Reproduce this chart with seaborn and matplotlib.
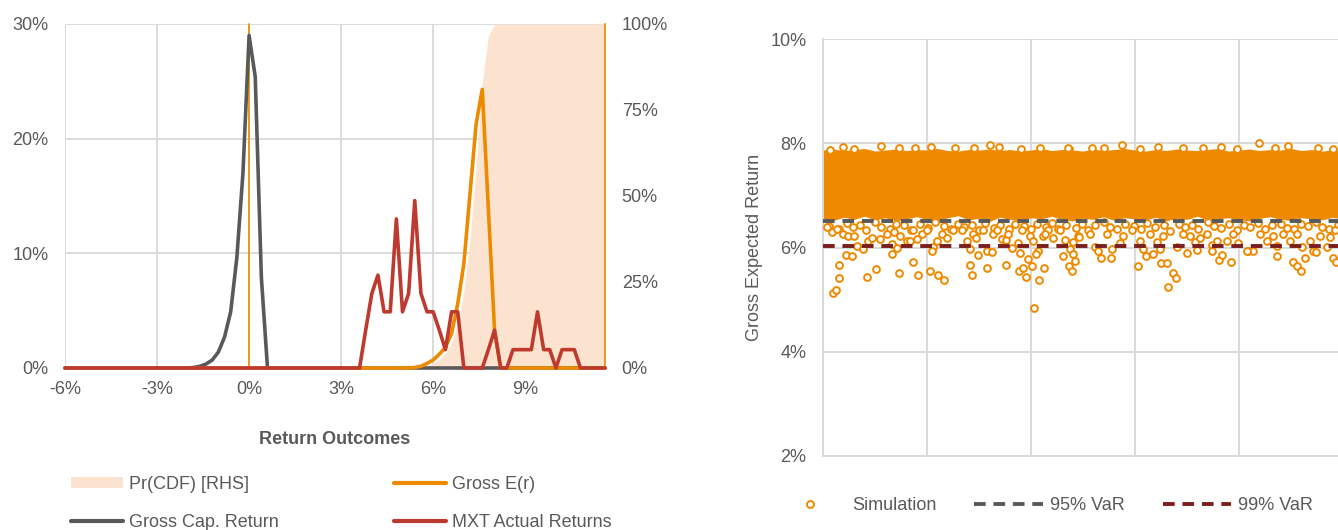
import matplotlib
matplotlib.use("Agg")
import matplotlib.pyplot as plt
import seaborn as sns
from matplotlib.lines import Line2D
from matplotlib.patches import Patch

# ---- left chart: distribution of return outcomes (in %) ----
bins = [-6.0, -5.8, -5.6, -5.4, -5.2, -5.0, -4.8, -4.6, -4.4, -4.2, -4.0, -3.8, -3.6, -3.4, -3.2,
        -3.0, -2.8, -2.6, -2.4, -2.2, -2.0, -1.8, -1.6, -1.4, -1.2, -1.0, -0.8, -0.6, -0.4, -0.2,
        0.0, 0.2, 0.4, 0.6, 0.8, 1.0, 1.2, 1.4, 1.6, 1.8, 2.0, 2.2, 2.4, 2.6, 2.8,
        3.0, 3.2, 3.4, 3.6, 3.8, 4.0, 4.2, 4.4, 4.6, 4.8, 5.0, 5.2, 5.4, 5.6, 5.8,
        6.0, 6.2, 6.4, 6.6, 6.8, 7.0, 7.2, 7.4, 7.6, 7.8, 8.0, 8.2, 8.4, 8.6, 8.8,
        9.0, 9.2, 9.4, 9.6, 9.8, 10.0, 10.2, 10.4, 10.6, 10.8, 11.0, 11.2, 11.4, 11.6]

# non-zero readings only, every other bin is 0
gross_cap = {-1.8: 0.05, -1.6: 0.15, -1.4: 0.35, -1.2: 0.7, -1.0: 1.4, -0.8: 2.7, -0.6: 4.9,
             -0.4: 9.6, -0.2: 17.0, 0.0: 29.0, 0.2: 25.4, 0.4: 7.9}
gross_er = {5.4: 0.05, 5.6: 0.15, 5.8: 0.4, 6.0: 0.7, 6.2: 1.2, 6.4: 1.8, 6.6: 3.0, 6.8: 5.6,
            7.0: 9.1, 7.2: 15.2, 7.4: 21.3, 7.6: 24.3, 7.8: 13.8, 8.0: 3.3}
mxt_actual = {3.8: 3.3, 4.0: 6.5, 4.2: 8.1, 4.4: 4.9, 4.6: 4.9, 4.8: 13.0, 5.0: 4.9, 5.2: 6.5,
              5.4: 14.6, 5.6: 6.5, 5.8: 4.9, 6.0: 4.9, 6.2: 3.3, 6.4: 1.6, 6.6: 4.9, 6.8: 4.9,
              7.8: 1.6, 8.0: 3.3, 8.6: 1.6, 8.8: 1.6, 9.0: 1.6, 9.2: 1.6, 9.4: 4.9, 9.6: 1.6,
              9.8: 1.6, 10.2: 1.6, 10.4: 1.6, 10.6: 1.6}
cdf_rhs = {5.4: 0.05, 5.6: 0.2, 5.8: 0.6, 6.0: 1.3, 6.2: 2.5, 6.4: 4.3, 6.6: 7.3, 6.8: 12.9,
           7.0: 22.0, 7.2: 37.2, 7.4: 58.5, 7.6: 82.8, 7.8: 96.6, 8.0: 99.9, 8.2: 100, 8.4: 100,
           8.6: 100, 8.8: 100, 9.0: 100, 9.2: 100, 9.4: 100, 9.6: 100, 9.8: 100, 10.0: 100,
           10.2: 100, 10.4: 100, 10.6: 100, 10.8: 100, 11.0: 100, 11.2: 100, 11.4: 100, 11.6: 100}

left_xticks = [-6, -3, 0, 3, 6, 9]
left_xlabels = ["-6%", "-3%", "0%", "3%", "6%", "9%"]
left_yticks = [0, 10, 20, 30]
left_ylabels = ["0%", "10%", "20%", "30%"]
rhs_yticks = [0, 25, 50, 75, 100]
rhs_ylabels = ["0%", "25%", "50%", "75%", "100%"]

# ---- right chart: simulated gross expected returns (in %) ----
var_95 = 6.50
var_99 = 6.03

# envelope of the dense cloud, sampled every 100 simulations
band_sim = list(range(0, 5001, 100))
band_top = [7.87, 7.89, 7.86, 7.88, 7.90, 7.85, 7.87, 7.89, 7.86, 7.88, 7.87, 7.90, 7.86, 7.85,
            7.88, 7.87, 7.89, 7.86, 7.88, 7.85, 7.87, 7.90, 7.86, 7.88, 7.87, 7.85, 7.89, 7.86,
            7.88, 7.90, 7.87, 7.85, 7.88, 7.86, 7.89, 7.87, 7.86, 7.88, 7.90, 7.85, 7.87, 7.89,
            7.86, 7.88, 7.87, 7.90, 7.86, 7.88, 7.85, 7.87, 7.88]
band_bottom = [6.56, 6.52, 6.58, 6.54, 6.60, 6.53, 6.57, 6.51, 6.55, 6.59, 6.54, 6.52, 6.57, 6.61,
               6.53, 6.56, 6.50, 6.58, 6.54, 6.52, 6.57, 6.55, 6.60, 6.53, 6.51, 6.56, 6.54, 6.59,
               6.52, 6.57, 6.55, 6.53, 6.58, 6.51, 6.56, 6.54, 6.60, 6.52, 6.55, 6.57, 6.53, 6.51,
               6.56, 6.59, 6.54, 6.52, 6.57, 6.55, 6.53, 6.58, 6.54]

# highest points above the cloud
top_sim = [67, 196, 558, 731, 1035, 1269, 1606, 1692, 2087, 2365, 2359, 2583, 2878, 3224,
           3465, 3827, 3978, 4196, 4474, 4763, 300, 880, 1450, 1900, 2700, 3050, 3650, 4350, 4900]
top_ret = [7.88, 7.92, 7.94, 7.90, 7.92, 7.90, 7.97, 7.93, 7.90, 7.89, 7.90, 7.91, 7.97, 7.92,
           7.90, 7.92, 7.89, 8.00, 7.94, 7.90, 7.89, 7.90, 7.91, 7.89, 7.90, 7.89, 7.91, 7.90, 7.89]

# fringe just under the cloud
fringe_sim = [60, 150, 230, 290, 360, 410, 500, 560, 640, 700, 780, 850, 930, 1010, 1080, 1160,
              1230, 1300, 1360, 1430, 1500, 1560, 1640, 1700, 1790, 1850, 1930, 2000, 2060, 2140,
              2200, 2260, 2340, 2430, 2490, 2550, 2620, 2700, 2760, 2830, 2900, 2990, 3060, 3120,
              3190, 3280, 3340, 3420, 3480, 3550, 3610, 3700, 3760, 3830, 3900, 3980, 4050, 4110,
              4180, 4250, 4320, 4400, 4460, 4530, 4600, 4660, 4740, 4800, 4870, 4950]
fringe_ret = [6.42, 6.35, 6.47, 6.40, 6.44, 6.33, 6.48, 6.39, 6.36, 6.46, 6.43, 6.34, 6.45, 6.38,
              6.48, 6.41, 6.35, 6.46, 6.39, 6.44, 6.33, 6.47, 6.37, 6.43, 6.36, 6.46, 6.42, 6.35,
              6.45, 6.40, 6.47, 6.36, 6.44, 6.38, 6.46, 6.33, 6.43, 6.48, 6.40, 6.35, 6.45, 6.42,
              6.36, 6.47, 6.39, 6.44, 6.32, 6.46, 6.40, 6.43, 6.35, 6.48, 6.42, 6.38, 6.45, 6.34,
              6.44, 6.40, 6.47, 6.36, 6.43, 6.46, 6.38, 6.35, 6.45, 6.42, 6.48, 6.40, 6.36, 6.44]

# points between the two VaR levels
mid_sim = [35, 83, 131, 196, 244, 298, 324, 388, 436, 468, 548, 612, 660, 683, 740, 804, 837, 869,
           901, 949, 997, 1061, 1093, 1141, 1189, 1253, 1333, 1381, 1413, 1446, 1471, 1542, 1580,
           1638, 1670, 1718, 1760, 1782, 1814, 1878, 1910, 1990, 2022, 2071, 2119, 2167, 2215,
           2279, 2327, 2375, 2407, 2455, 2135, 2465, 2567, 2615, 2647, 2728, 2776, 2856, 2888,
           2968, 3048, 3080, 3144, 3208, 3240, 3266, 3401, 3465, 3529, 3577, 3625, 3689, 3737,
           3785, 3881, 3946, 3994, 4090, 4138, 4202, 4266, 4330, 4369, 4426, 4490, 4554, 4602,
           4683, 4715, 4779, 4843, 4875, 4923]
mid_ret = [6.39, 6.29, 6.36, 6.26, 6.23, 6.23, 6.02, 5.97, 6.13, 6.19, 6.17, 6.26, 6.07, 6.29, 6.23,
           6.12, 6.12, 6.33, 6.17, 6.26, 6.34, 6.01, 6.13, 6.26, 6.19, 6.33, 6.33, 6.13, 5.97, 6.26,
           6.19, 6.33, 5.94, 6.26, 6.33, 6.17, 6.15, 6.26, 6.00, 6.08, 6.33, 6.23, 6.13, 5.94, 6.23,
           6.33, 6.19, 6.33, 6.15, 5.97, 6.10, 6.23, 6.26, 6.20, 6.26, 6.01, 5.94, 6.26, 5.97, 6.08,
           6.23, 6.33, 6.13, 5.97, 6.26, 6.10, 5.97, 6.23, 6.01, 6.26, 6.23, 6.10, 6.19, 6.26, 6.04,
           6.13, 6.13, 6.26, 6.08, 5.94, 5.94, 6.26, 6.13, 6.23, 6.02, 6.26, 6.13, 6.26, 6.01, 6.13,
           5.94, 6.23, 6.01, 6.20, 6.33]

# tail below the 99% VaR
tail_sim = [99, 122, 157, 157, 221, 276, 420, 507, 667, 708, 731, 862, 913, 1051, 1026, 1106, 1163,
            1410, 1429, 1494, 1574, 1622, 1763, 1888, 1894, 1926, 1949, 1974, 2010, 2029, 2048,
            2080, 2128, 2311, 2369, 2397, 2400, 2423, 2676, 2772, 3032, 3106, 3170, 3247, 3311,
            3321, 3369, 3394, 3503, 3593, 3737, 3811, 3833, 3923, 4080, 4369, 4522, 4561, 4593,
            4635, 4740, 4907, 4933]
tail_ret = [5.12, 5.18, 5.42, 5.67, 5.85, 5.83, 5.44, 5.58, 5.88, 5.99, 5.52, 5.72, 5.48, 5.94,
            5.55, 5.48, 5.37, 5.66, 5.48, 5.86, 5.60, 5.92, 5.66, 5.54, 5.90, 5.60, 5.44, 5.78,
            5.64, 4.83, 5.87, 5.38, 5.61, 5.83, 5.64, 5.55, 5.88, 5.74, 5.79, 5.79, 5.64, 5.83,
            5.87, 5.71, 5.71, 5.24, 5.52, 5.42, 5.89, 5.96, 5.94, 5.76, 5.85, 5.73, 5.93, 5.83,
            5.72, 5.64, 5.55, 5.80, 5.92, 5.80, 5.72]

right_yticks = [2, 4, 6, 8, 10]
right_ylabels = ["2%", "4%", "6%", "8%", "10%"]

# ---- style ----
ORANGE = "#EE8A00"
GREY = "#595959"
RED = "#BE3A2F"
PEACH = "#FBE3CF"
DARKRED = "#7B1E1E"
GRID = "#D9D9D9"
TEXT = "#595959"

sns.set_style("white")
plt.rcParams["font.family"] = ["Liberation Sans", "DejaVu Sans"]
plt.rcParams["font.size"] = 13

W, H = 1338, 530
fig = plt.figure(figsize=(W / 100, H / 100), dpi=100)


def px_box(x0, y0, x1, y1):
    return [x0 / W, 1 - y1 / H, (x1 - x0) / W, (y1 - y0) / H]


# left chart: grid axis at the bottom, CDF twin in the middle, lines on top
left_pos = px_box(65, 24, 605, 368)
ax_grid = fig.add_axes(left_pos)
ax_cdf = ax_grid.twinx()
ax = fig.add_axes(left_pos, sharex=ax_grid, sharey=ax_grid)
ax_grid.set_zorder(0)
ax_cdf.set_zorder(1)
ax.set_zorder(2)
ax_cdf.patch.set_visible(False)
ax.patch.set_visible(False)
ax.axis("off")

cdf_vals = [cdf_rhs.get(b, 0) for b in bins]
ax_cdf.fill_between(bins, cdf_vals, color=PEACH, lw=0)
ax_cdf.set_ylim(0, 100)
ax_cdf.set_yticks(rhs_yticks)
ax_cdf.set_yticklabels(rhs_ylabels)
ax_cdf.tick_params(axis="y", length=0, pad=12, colors=TEXT, labelsize=13)
for s in ["top", "left", "bottom"]:
    ax_cdf.spines[s].set_visible(False)
ax_cdf.spines["right"].set_color(ORANGE)
ax_cdf.spines["right"].set_linewidth(1.2)

ax.axvline(0, color=ORANGE, lw=1.2, zorder=1)
sns.lineplot(x=bins, y=[gross_cap.get(b, 0) for b in bins], ax=ax, color=GREY, lw=2.6)
sns.lineplot(x=bins, y=[gross_er.get(b, 0) for b in bins], ax=ax, color=ORANGE, lw=2.6)
sns.lineplot(x=bins, y=[mxt_actual.get(b, 0) for b in bins], ax=ax, color=RED, lw=2.6)
for ln in ax.lines:
    ln.set_clip_on(False)

ax_grid.set_xlim(-6, 11.6)
ax_grid.set_ylim(0, 30)
ax_grid.set_xticks(left_xticks)
ax_grid.set_xticklabels(left_xlabels)
ax_grid.set_yticks(left_yticks)
ax_grid.set_yticklabels(left_ylabels)
ax_grid.grid(True, color=GRID, lw=1.3)
ax_grid.tick_params(axis="both", length=0, colors=TEXT, labelsize=13)
ax_grid.tick_params(axis="y", pad=12)
ax_grid.tick_params(axis="x", pad=9)
for s in ax_grid.spines.values():
    s.set_visible(False)
ax_grid.set_xlabel("Return Outcomes", fontsize=13, fontweight="bold", color=TEXT, labelpad=24)

left_handles = [Patch(facecolor=PEACH, edgecolor="none"),
                Line2D([], [], color=GREY, lw=3),
                Line2D([], [], color=ORANGE, lw=3),
                Line2D([], [], color=RED, lw=3)]
left_labels = ["Pr(CDF) [RHS]", "Gross Cap. Return", "Gross E(r)", "MXT Actual Returns"]
fig.legend(left_handles, left_labels, ncol=2, loc="upper left", bbox_to_anchor=(71 / W, 1 - 476 / H),
           frameon=False, fontsize=13, labelcolor=TEXT, handlelength=2.9, handleheight=0.6,
           handletextpad=0.3, columnspacing=6.4, labelspacing=1.15, borderpad=0, borderaxespad=0)

# right chart, cut off by the figure edge
ax_r = fig.add_axes(px_box(823, 39, 1343, 456))
ax_r.fill_between(band_sim, band_bottom, band_top, color=ORANGE, lw=0, zorder=2)
sim_x = top_sim + fringe_sim + mid_sim + tail_sim
sim_y = top_ret + fringe_ret + mid_ret + tail_ret
sns.scatterplot(x=sim_x, y=sim_y, ax=ax_r, s=24, zorder=3)
pts = ax_r.collections[-1]
pts.set_facecolor("white")
pts.set_edgecolor(ORANGE)
pts.set_linewidth(1.4)
ax_r.axhline(var_95, color=GREY, lw=2.8, ls=(0, (3, 2)), zorder=4)
ax_r.axhline(var_99, color=DARKRED, lw=2.8, ls=(0, (3, 2)), zorder=4)

ax_r.set_xlim(0, 5000)
ax_r.set_ylim(2, 10)
ax_r.set_xticks(range(0, 5001, 1000))
ax_r.set_xticklabels([])
ax_r.set_yticks(right_yticks)
ax_r.set_yticklabels(right_ylabels)
ax_r.grid(True, color=GRID, lw=1.4)
ax_r.set_axisbelow(True)
ax_r.tick_params(axis="both", length=0, colors=TEXT, labelsize=13)
ax_r.tick_params(axis="y", pad=12)
for s in ["top", "right"]:
    ax_r.spines[s].set_visible(False)
for s in ["left", "bottom"]:
    ax_r.spines[s].set_color(GRID)
    ax_r.spines[s].set_linewidth(1.4)
ax_r.set_ylabel("Gross Expected Return", fontsize=13, color=TEXT, labelpad=5)

right_handles = [Line2D([], [], ls="none", marker="o", ms=5, mfc="white", mec=ORANGE, mew=1.4),
                 Line2D([], [], color=GREY, lw=2.8, ls=(0, (3, 2))),
                 Line2D([], [], color=DARKRED, lw=2.8, ls=(0, (3, 2)))]
right_labels = ["Simulation", "95% VaR", "99% VaR"]
fig.legend(right_handles, right_labels, ncol=3, loc="upper left", bbox_to_anchor=(776 / W, 1 - 497 / H),
           frameon=False, fontsize=13, labelcolor=TEXT, handlelength=3.8, handletextpad=0.4,
           columnspacing=2.1, borderpad=0, borderaxespad=0, numpoints=1)

fig.savefig("out.png", dpi=100)
